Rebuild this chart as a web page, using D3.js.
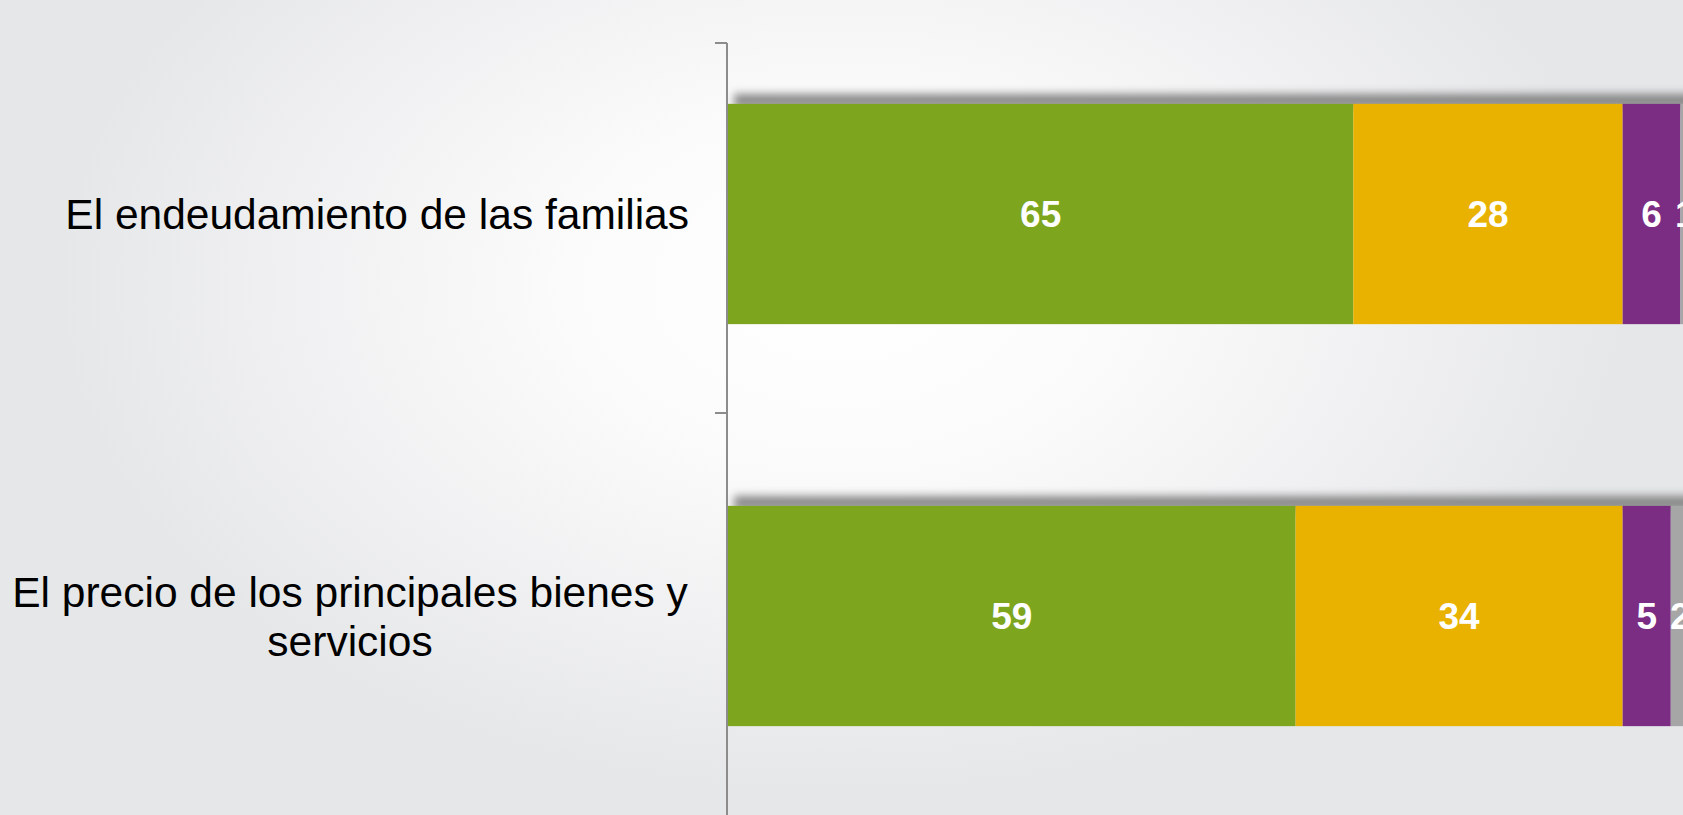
<!DOCTYPE html>
<html>
<head>
<meta charset="utf-8">
<script src="https://cdn.jsdelivr.net/npm/d3@7/dist/d3.min.js"></script>
<style>
  html, body { margin: 0; padding: 0; overflow: hidden; }
  svg { display: block; }
</style>
</head>
<body>
<svg id="chart" width="1683" height="815"></svg>
<script>
// ---- data ----
const categories = ["El endeudamiento de las familias", "El precio de los principales bienes y servicios"];
const categoryLines = [["El endeudamiento de las familias"], ["El precio de los principales bienes y", "servicios"]];
const seriesNames = ["s1", "s2", "s3", "s4"];
const seriesValues = [
  [65, 59],
  [28, 34],
  [6, 5],
  [1, 2]
];
const seriesColors = ["#7DA61E", "#E9B200", "#7B2C83", "#A6A6A6"];
const tickIndex = [0, 1];

// ---- layout ----
const W = 1683, H = 815;
const svg = d3.select("#chart");

// background
const defs = svg.append("defs");
const bg = defs.append("radialGradient").attr("id", "bg")
  .attr("cx", "0.5").attr("cy", "0.35").attr("r", "0.62")
  .attr("gradientTransform", "translate(0.5,0.35) scale(0.75,1) translate(-0.5,-0.35)");
bg.append("stop").attr("offset", "0").attr("stop-color", "#ffffff");
bg.append("stop").attr("offset", "0.35").attr("stop-color", "#fbfbfb");
bg.append("stop").attr("offset", "1").attr("stop-color", "#e6e7e9");
svg.append("rect").attr("width", W).attr("height", H).attr("fill", "url(#bg)");

const blur = defs.append("filter").attr("id", "shadowBlur")
  .attr("x", "-10%").attr("y", "-200%").attr("width", "120%").attr("height", "500%");
blur.append("feGaussianBlur").attr("stdDeviation", "4");

const x = d3.scaleLinear().domain([0, 100]).range([728, 1690]);
const y = d3.scaleBand().domain(categories).range([13, 817])
  .paddingInner(0.452).paddingOuter(0.226);
const tickY = d3.scaleLinear().domain([0, 2]).range([43, 783]);

// stacked data
const rows = categories.map((c, i) => {
  const o = { cat: c };
  seriesNames.forEach((s, k) => o[s] = seriesValues[k][i]);
  return o;
});
const stacked = d3.stack().keys(seriesNames)(rows);

// shadows above bars
svg.append("g").selectAll("rect.shadow").data(rows).join("rect")
  .attr("x", x(0) + 6)
  .attr("y", d => y(d.cat) - 10)
  .attr("width", d => x(d3.sum(seriesNames, s => d[s])) - x(0))
  .attr("height", 14)
  .attr("fill", "#707070")
  .attr("opacity", 0.8)
  .attr("filter", "url(#shadowBlur)");

// bars
const layers = svg.append("g").selectAll("g.layer").data(stacked).join("g")
  .attr("fill", (d, i) => seriesColors[i]);
layers.selectAll("rect").data(d => d.map(p => ({ p, cat: p.data.cat }))).join("rect")
  .attr("x", d => x(d.p[0]))
  .attr("y", d => y(d.cat))
  .attr("width", d => x(d.p[1]) - x(d.p[0]))
  .attr("height", y.bandwidth());

// data labels
const lab = svg.append("g")
  .attr("font-family", "Liberation Sans, Arial, sans-serif")
  .attr("font-weight", "bold")
  .attr("font-size", 37)
  .attr("fill", "#ffffff")
  .attr("text-anchor", "middle");
stacked.forEach(layer => {
  layer.forEach(p => {
    lab.append("text")
      .attr("x", (x(p[0]) + x(p[1])) / 2)
      .attr("y", y(p.data.cat) + y.bandwidth() / 2 + 13)
      .text(p[1] - p[0]);
  });
});

// axis
const axisG = svg.append("g").attr("stroke", "#8c8c8c").attr("stroke-width", 2);
axisG.append("line").attr("x1", 727).attr("x2", 727).attr("y1", tickY(0)).attr("y2", H);
axisG.selectAll("line.tick").data(tickIndex).join("line")
  .attr("x1", 715).attr("x2", 727)
  .attr("y1", d => tickY(d)).attr("y2", d => tickY(d));

// category labels
const catG = svg.append("g")
  .attr("font-family", "Liberation Sans, Arial, sans-serif")
  .attr("font-size", 42.5)
  .attr("fill", "#000000");
categories.forEach((c, i) => {
  const lines = categoryLines[i];
  const cy = y(c) + y.bandwidth() / 2;
  const lh = 49;
  const t = catG.append("text")
    .attr("text-anchor", lines.length > 1 ? "middle" : "end");
  const x0 = lines.length > 1 ? 350 : 689;
  lines.forEach((ln, j) => {
    t.append("tspan").attr("x", x0)
      .attr("y", cy + 15 + (j - (lines.length - 1) / 2) * lh)
      .text(ln);
  });
});
</script>
</body>
</html>
